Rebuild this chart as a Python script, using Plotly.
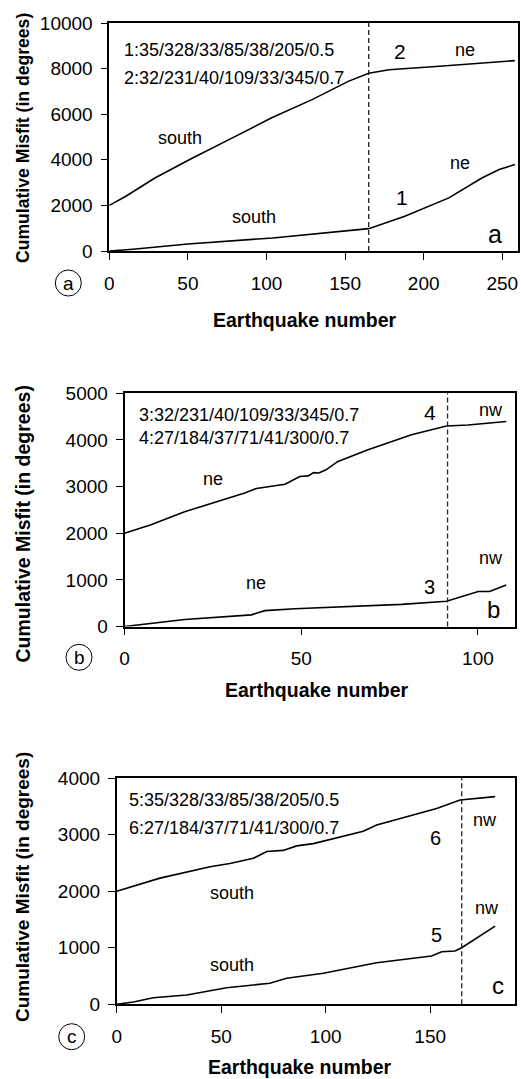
import plotly.graph_objects as go

W, H = 521, 1079
FONT = "Liberation Sans, Arial, sans-serif"

# ---------------- data ----------------
# panel a
a_curve2_x = [0, 10, 29, 53, 78, 103, 129, 152, 165, 178, 210, 258]
a_curve2_y = [2000, 2380, 3200, 4080, 4950, 5830, 6640, 7440, 7800, 7950, 8100, 8350]
a_curve1_x = [0, 15, 50, 104, 165, 188, 216, 237, 248, 258]
a_curve1_y = [0, 80, 310, 570, 980, 1520, 2330, 3200, 3570, 3790]
# panel b
b_curve4_x = [0, 7.5, 17, 26.4, 34, 37.3, 45.4, 49.6, 52, 53.5, 55, 57, 60.4, 68.9, 81.2, 91.1, 97.2, 108]
b_curve4_y = [2000, 2180, 2460, 2690, 2860, 2960, 3050, 3215, 3230, 3300, 3290, 3360, 3540, 3790, 4110, 4300, 4320, 4395]
b_curve3_x = [0, 17, 35.9, 39.7, 48.2, 64.3, 78.4, 91.1, 100.1, 103.3, 108]
b_curve3_y = [0, 150, 250, 340, 380, 425, 475, 540, 750, 750, 890]
# panel c
c_curve6_x = [0, 20.7, 44.7, 54.2, 65.4, 71.8, 79.7, 86.1, 94.1, 118, 124.4, 146.7, 153.1, 164.3, 169.1, 181.1]
c_curve6_y = [2000, 2230, 2430, 2490, 2580, 2700, 2720, 2800, 2840, 3060, 3170, 3390, 3460, 3610, 3630, 3670]
c_curve5_x = [0, 8, 17.5, 33.5, 52.6, 73.3, 81.3, 98.9, 124.4, 150.7, 155.5, 161.9, 165.1, 181.1]
c_curve5_y = [0, 40, 117, 164, 293, 371, 459, 548, 735, 853, 929, 942, 1000, 1383]

switch_points = [165, 91.4, 165.1]          # earthquake number of the dashed break
x_ranges = [[0, 260], [0, 110.4], [0, 190.6]]
y_ranges = [[0, 10000], [0, 5000], [0, 4000]]
x_ticks = [[0, 50, 100, 150, 200, 250], [0, 50, 100], [0, 50, 100, 150]]
y_ticks = [[0, 2000, 4000, 6000, 8000, 10000],
           [0, 1000, 2000, 3000, 4000, 5000],
           [0, 1000, 2000, 3000, 4000]]
param_lines = [
    ["1:35/328/33/85/38/205/0.5", "2:32/231/40/109/33/345/0.7"],
    ["3:32/231/40/109/33/345/0.7", "4:27/184/37/71/41/300/0.7"],
    ["5:35/328/33/85/38/205/0.5", "6:27/184/37/71/41/300/0.7"],
]
panel_letters = ["a", "b", "c"]

# ---------------- layout geometry (pixels) ----------------
plot_px = [  # left, right, top, bottom
    (109.3, 518, 23, 251),
    (124.5, 514.7, 393.3, 626.5),
    (116.7, 515, 778, 1004.3),
]

def px(x):
    return x / W

def py(y):
    return 1 - y / H

fig = go.Figure()

curves = [
    [(a_curve2_x, a_curve2_y), (a_curve1_x, a_curve1_y)],
    [(b_curve4_x, b_curve4_y), (b_curve3_x, b_curve3_y)],
    [(c_curve6_x, c_curve6_y), (c_curve5_x, c_curve5_y)],
]
for i, pair in enumerate(curves):
    sfx = "" if i == 0 else str(i + 1)
    for xs, ys in pair:
        fig.add_trace(go.Scatter(x=xs, y=ys, mode="lines",
                                 line=dict(color="black", width=1.6),
                                 xaxis="x" + sfx, yaxis="y" + sfx,
                                 showlegend=False, hoverinfo="skip"))

layout = dict(width=W, height=H, margin=dict(l=0, r=0, t=0, b=0),
              paper_bgcolor="white", plot_bgcolor="white",
              font=dict(family=FONT, color="black"), showlegend=False)

axis_common = dict(showline=True, mirror=True, linecolor="black", linewidth=1.6,
                   ticks="outside", ticklen=7, tickcolor="black", tickwidth=1.3,
                   showgrid=False, zeroline=False, automargin=False, tickformat="d",
                   tickfont=dict(family=FONT, size=19, color="black"))

for i in range(3):
    l, r, t, b = plot_px[i]
    sfx = "" if i == 0 else str(i + 1)
    layout["xaxis" + sfx] = dict(axis_common, domain=[px(l), px(r)], range=x_ranges[i],
                                 tickvals=x_ticks[i], anchor="y" + sfx,
                                 ticklabelstandoff=7)
    layout["yaxis" + sfx] = dict(axis_common, domain=[py(b), py(t)], range=y_ranges[i],
                                 tickvals=y_ticks[i], anchor="x" + sfx,
                                 ticklabelstandoff=4)

fig.update_layout(**layout)

# dashed break lines
for i in range(3):
    sfx = "" if i == 0 else str(i + 1)
    fig.add_shape(type="line", xref="x" + sfx, yref="y" + sfx + " domain",
                  x0=switch_points[i], x1=switch_points[i], y0=0, y1=1,
                  line=dict(color="#222", width=1.3, dash="5px,3px"))

ann = []

def txt(text, x, y, ref, size=18, xanchor="center", bold=False, angle=0):
    ann.append(dict(text=("<b>%s</b>" % text) if bold else text, x=x, y=y,
                    xref=ref[0], yref=ref[1], showarrow=False,
                    xanchor=xanchor, yanchor="middle", textangle=angle,
                    font=dict(family=FONT, size=size, color="black")))

# parameter strings
param_pos = [[(8, 8830), (8, 7590)], [(3.4, 4540), (3.4, 4040)], [(4.8, 3610), (4.8, 3110)]]
for i in range(3):
    sfx = "" if i == 0 else str(i + 1)
    for s, (x, y) in zip(param_lines[i], param_pos[i]):
        txt(s, x, y, ("x" + sfx, "y" + sfx), size=18, xanchor="left")

# in-plot labels: (text, x, y, size)
labels = [
    [("2", 185, 8760, 21), ("ne", 226.5, 8830, 18), ("south", 45, 4960, 18),
     ("ne", 223.3, 3860, 18), ("1", 186, 2330, 21), ("south", 91.8, 1480, 18),
     ("a", 245.5, 750, 25)],
    [("4", 86.4, 4590, 21), ("nw", 103.8, 4650, 18), ("ne", 25.1, 3160, 18),
     ("nw", 103.8, 1465, 18), ("ne", 37.3, 940, 18), ("3", 86.4, 855, 20),
     ("b", 104.3, 355, 24)],
    [("6", 152.5, 2935, 20), ("nw", 176.4, 3255, 18), ("south", 55.1, 1960, 18),
     ("nw", 177.2, 1695, 18), ("5", 153.1, 1225, 20), ("south", 55.1, 695, 18),
     ("c", 182.6, 340, 24)],
]
for i in range(3):
    sfx = "" if i == 0 else str(i + 1)
    for s, x, y, size in labels[i]:
        txt(s, x, y, ("x" + sfx, "y" + sfx), size=size)

# axis titles (paper coords)
ytitle_pos = [(23, 138, 17.6), (22.5, 524, 19.5), (22.5, 887.5, 19)]
xtitle_pos = [(305, 319.5), (317, 689.5), (300, 1067)]
for (x, y, s) in ytitle_pos:
    txt("Cumulative Misfit (in degrees)", px(x), py(y), ("paper", "paper"),
        size=s, bold=True, angle=-90)
for (x, y) in xtitle_pos:
    txt("Earthquake number", px(x), py(y), ("paper", "paper"), size=19.5, bold=True)

# circled panel letters
circ = [(68.3, 283), (79, 657.3), (71.7, 1036.7)]
R = 13
for (cx, cy), letter in zip(circ, panel_letters):
    fig.add_shape(type="circle", xref="paper", yref="paper",
                  x0=px(cx - R), x1=px(cx + R), y0=py(cy + R), y1=py(cy - R),
                  line=dict(color="black", width=1))
    txt(letter, px(cx), py(cy), ("paper", "paper"), size=19)

fig.update_layout(annotations=ann)
fig.write_html("out.html", config={"displayModeBar": False},
               post_script="document.body.style.margin='0';"
                           "document.body.style.overflow='hidden';")
